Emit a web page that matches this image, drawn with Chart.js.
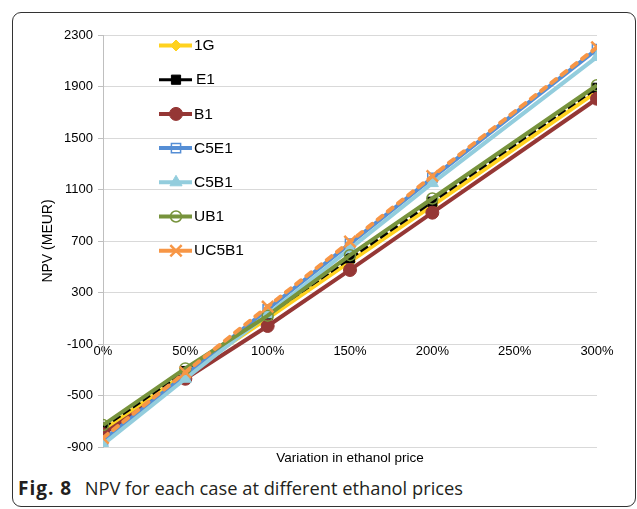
<!DOCTYPE html>
<html><head><meta charset="utf-8">
<script src="https://cdn.jsdelivr.net/npm/chart.js@4"></script>
<style>
html,body{margin:0;padding:0;background:#fff;width:637px;height:509px;overflow:hidden;}
#frame{position:absolute;left:12px;top:12px;width:624px;height:495px;border:1px solid #333;border-radius:9px;box-sizing:border-box;}
#wrap{position:absolute;left:0;top:0;width:637px;height:470px;}
#cap{position:absolute;left:18px;top:476px;font-family:"Open Sans";font-size:18.3px;color:#231f20;white-space:nowrap;line-height:24px;}
#cap b{font-weight:700;font-size:19px;letter-spacing:1px;margin-right:3px;}
</style></head>
<body>
<div id="frame"></div>
<div id="wrap"><canvas id="c" width="637" height="470"></canvas></div>
<div id="cap"><b>Fig. 8</b>&nbsp; NPV for each case at different ethanol prices</div>
<script>
// ethanol price variation (%)
const xValues = [0, 50, 100, 150, 200, 300];
const seriesNames = ['1G', 'E1', 'B1', 'C5E1', 'C5B1', 'UB1', 'UC5B1'];
// NPV (MEUR)
const npv1G    = [-770, -330, 100, 540, 975, 1860];
const npvE1    = [-750, -310, 125, 565, 1005, 1890];
const npvB1    = [-800, -370, 40, 475, 920, 1805];
const npvC5E1  = [-850, -340, 170, 680, 1190, 2190];
const npvC5B1  = [-880, -370, 130, 640, 1150, 2130];
const npvUB1   = [-730, -290, 120, 590, 1030, 1910];
const npvUC5B1 = [-830, -320, 190, 695, 1205, 2205];
const yTicks = {min: -900, max: 2300, step: 400};
const xTicks = {min: 0, max: 300, step: 50};

const seriesValues = [npv1G, npvE1, npvB1, npvC5E1, npvC5B1, npvUB1, npvUC5B1];
const styles = [
  {color: '#FFD21F', width: 4, point: 'rectRot', r: 5.5, fill: '#FFD21F', pbw: 1},
  {color: '#000000', width: 3, point: 'rect', r: 6.5, fill: '#000000', pbw: 1, dash: [9, 3]},
  {color: '#953735', width: 4, point: 'circle', r: 6.5, fill: '#953735', pbw: 1},
  {color: '#558ED5', width: 4, point: 'rect', r: 6.5, fill: 'rgba(255,255,255,0)', pbw: 1.5},
  {color: '#93CDDD', width: 4, point: 'triangle', r: 7, fill: '#93CDDD', pbw: 1},
  {color: '#77933C', width: 4, point: 'circle', r: 5.5, fill: 'rgba(255,255,255,0)', pbw: 1.5},
  {color: '#F79646', width: 4, point: 'crossRot', r: 8, fill: '#F79646', pbw: 2.5, dash: [6, 7], cap: 'round'}
];

const datasets = seriesNames.map((name, i) => {
  const s = styles[i];
  return {
    label: name,
    data: xValues.map((x, j) => ({x: x, y: seriesValues[i][j]})),
    borderColor: s.color,
    backgroundColor: s.color,
    borderWidth: s.width,
    borderDash: s.dash || [],
    borderCapStyle: s.cap || 'butt',
    pointStyle: s.point,
    pointRadius: s.r,
    pointHoverRadius: s.r,
    pointBackgroundColor: s.fill,
    pointBorderColor: s.color,
    pointBorderWidth: s.pbw,
    showLine: true,
    tension: 0,
    order: seriesNames.length - 1 - i
  };
});

const legendPlugin = {
  id: 'seriesLegend',
  afterDraw(chart) {
    const ctx = chart.ctx;
    const x0 = 159, x1 = 192, xm = 176, xt = 194;
    chart.data.datasets.forEach((ds, i) => {
      const y = 45.5 + i * 34.2;
      ctx.save();
      ctx.strokeStyle = ds.borderColor;
      ctx.lineWidth = ds.borderWidth;
      ctx.lineCap = 'butt';
      ctx.beginPath(); ctx.moveTo(x0, y); ctx.lineTo(x1, y); ctx.stroke();
      if (Chart.helpers && Chart.helpers.drawPoint) {
        ctx.fillStyle = ds.pointBackgroundColor;
        ctx.strokeStyle = ds.pointBorderColor;
        ctx.lineWidth = ds.pointBorderWidth;
        Chart.helpers.drawPoint(ctx, {pointStyle: ds.pointStyle, radius: ds.pointRadius, rotation: 0, borderWidth: ds.pointBorderWidth}, xm, y);
      }
      ctx.fillStyle = '#000';
      ctx.font = '15.5px "Liberation Sans", Arial, sans-serif';
      ctx.textBaseline = 'middle';
      ctx.textAlign = 'left';
      ctx.fillText(ds.label, xt + (ds.label === 'E1' ? 2 : 0), y + 0.5);
      ctx.restore();
    });
  }
};

const font = {family: '"Liberation Sans", Arial, sans-serif', size: 13};

new Chart(document.getElementById('c'), {
  type: 'scatter',
  data: {datasets: datasets},
  plugins: [legendPlugin],
  options: {
    responsive: false,
    animation: false,
    devicePixelRatio: 1,
    layout: {padding: {top: 35, right: 40, bottom: 0, left: 0}},
    plugins: {legend: {display: false}, tooltip: {enabled: false}},
    scales: {
      x: {
        type: 'linear', axis: 'x',
        position: {y: -100},
        min: xTicks.min, max: xTicks.max,
        ticks: {stepSize: xTicks.step, callback: v => v + '%', font: font, color: '#000', padding: 0, maxRotation: 0},
        grid: {display: false, drawTicks: false},
        border: {display: false}
      },
      x2: {
        type: 'linear', axis: 'x',
        position: 'bottom',
        min: xTicks.min, max: xTicks.max,
        ticks: {display: false},
        grid: {display: false, drawTicks: false},
        border: {display: false},
        title: {display: true, text: 'Variation in ethanol price', color: '#000', font: {family: font.family, size: 13.5}, padding: {top: 2, bottom: 4}},
        afterFit: s => { s.width = s.width; s.height = 23; }
      },
      y: {
        type: 'linear',
        position: 'left',
        min: yTicks.min, max: yTicks.max,
        ticks: {stepSize: yTicks.step, callback: v => String(v), font: font, color: '#000', padding: 5},
        grid: {color: '#D9D9D9', lineWidth: 1, tickLength: 5, tickColor: '#BFBFBF'},
        border: {display: true, color: '#BFBFBF', width: 1},
        title: {display: true, text: 'NPV (MEUR)', color: '#000', font: {family: font.family, size: 14}, padding: {top: 40, bottom: 0}},
        afterFit: s => { s.width = 103; }
      }
    }
  }
});
</script>
</body></html>
